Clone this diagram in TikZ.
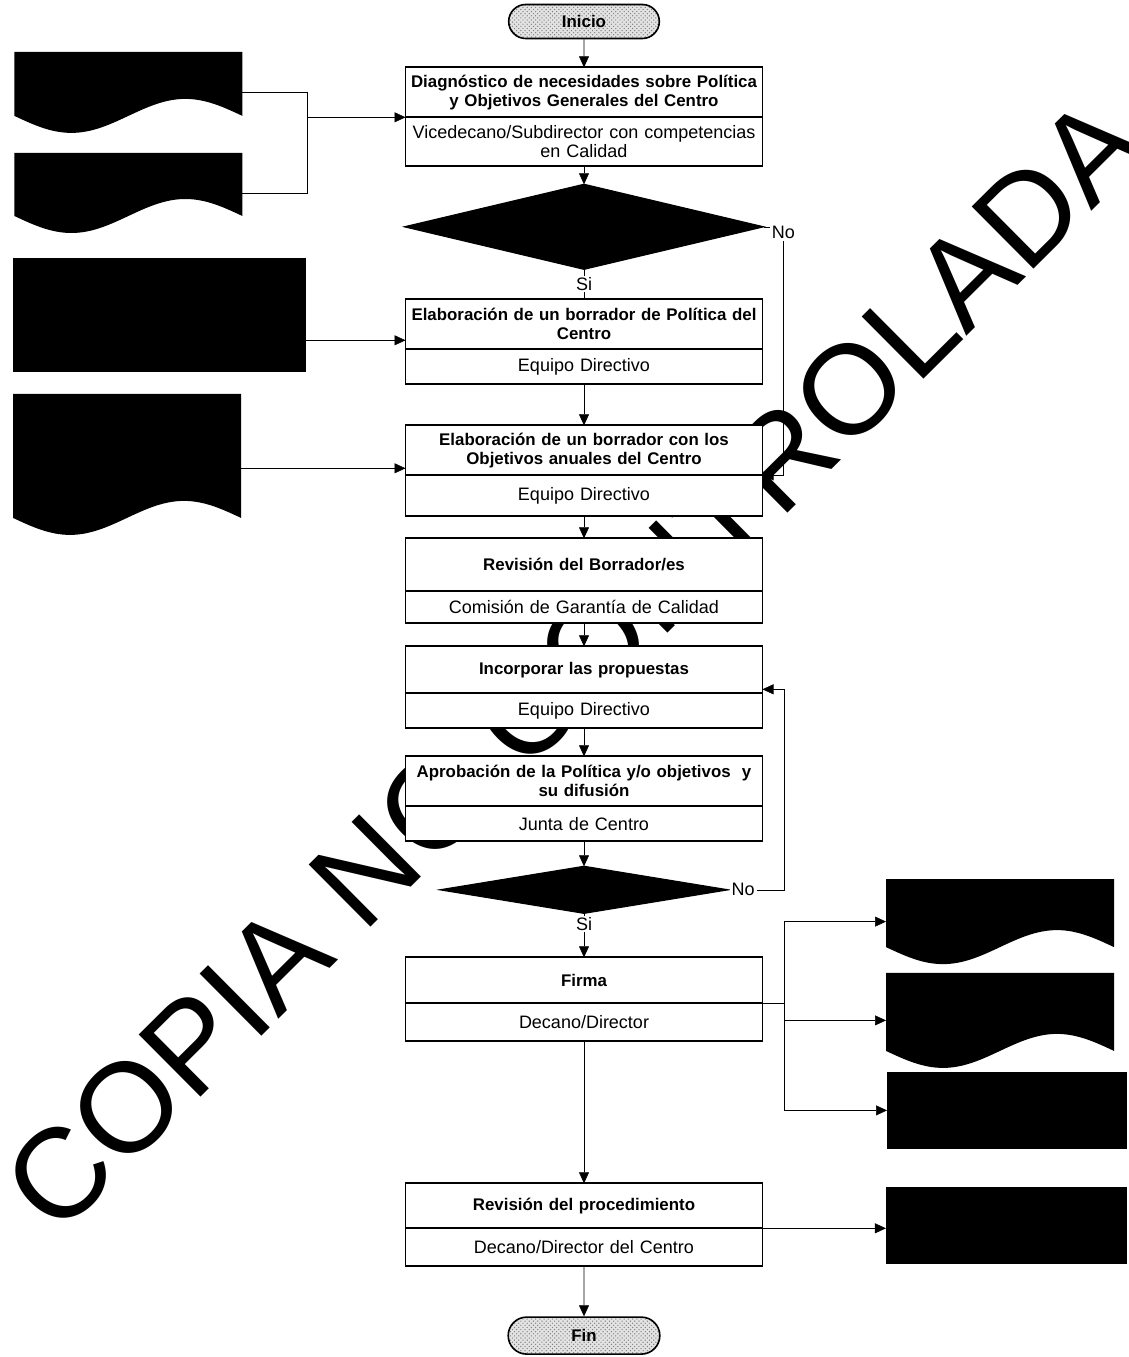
\documentclass[tikz,border=0pt]{standalone}
\usepackage{fontspec}
\setmainfont{Liberation Sans}
\usetikzlibrary{positioning,arrows.meta,shapes.geometric,shapes.misc,patterns}
\pgfdeclarelayer{lines}
\pgfdeclarelayer{stamplayer}
\pgfsetlayers{lines,stamplayer,main}
\newcommand{\taskfont}{\bfseries\fontsize{12}{13.5}\selectfont}
\newcommand{\respfont}{\fontsize{12.8}{13.5}\selectfont}
\tikzset{
flow/.style={
    >={Triangle[length=2.75mm,width=2.5mm]},
    line width=0.3mm
},
task/.style={
    draw,
    fill=white,
    line width=0.45mm,
    outer sep=0pt,
    minimum width=89.25mm,
    text width=88mm,
    inner xsep=0.6mm,
    inner ysep=0pt,
    align=center,
    font=\taskfont
},
resp/.style={
    task,
    font=\respfont
},
term/.style={
    rounded rectangle,
    draw,
    line width=0.4mm,
    minimum width=40mm,
    minimum height=8.5mm,
    preaction={fill=gray!22},
    pattern=crosshatch dots,
    pattern color=gray,
    font=\taskfont
},
decide/.style={
    diamond,
    draw,
    fill=black,
    inner sep=0pt,
    outer sep=0pt
},
sheet/.style={
    minimum width=57mm,
    inner sep=0pt,
    outer sep=0pt,
    fill=white,
    path picture={
        \fill[black] (path picture bounding box.north west)
            -- (path picture bounding box.north east)
            -- ([yshift=4.25mm]path picture bounding box.south east)
            sin ++(-14.25mm,4.25mm) cos ++(-14.25mm,-4.25mm)
            sin ++(-14.25mm,-4.25mm) cos ++(-14.25mm,4.25mm) -- cycle;
    }
},
blackbox/.style={
    fill=black,
    inner sep=0pt,
    outer sep=0pt
},
lbl/.style={
    font=\respfont,
    inner sep=1pt,
    fill=white
},
stamp/.style={
    rotate=44.8,
    inner sep=0pt,
    text=black,
    font=\fontsize{90.6}{90}\selectfont
},
leads/.style={
    ->
}}

\begin{document}
\begin{tikzpicture}[flow]
\useasboundingbox (0,0) rectangle (282mm,-339.25mm);

\node    (ini)  [term] at (146mm,-5.375mm)                       {Inicio};
\node    (t1)   [task, minimum height=12.5mm, below=7mm of ini]   {Diagnóstico de necesidades sobre Política\\y Objetivos Generales del Centro};
\node    (r1)   [resp, minimum height=12.25mm, below=0mm of t1]   {Vicedecano/Subdirector con competencias\\en Calidad};
\node    (q1)   [decide, minimum width=89.75mm, minimum height=21.25mm, below=4.5mm of r1] {};
\node    (t2)   [task, minimum height=12.5mm, below=7.5mm of q1]  {Elaboración de un borrador de Política del\\Centro};
\node    (r2)   [resp, minimum height=8.75mm, below=0mm of t2]    {Equipo Directivo};
\node    (t3)   [task, minimum height=12.5mm, below=10.25mm of r2] {Elaboración de un borrador con los\\Objetivos anuales del Centro};
\node    (r3)   [resp, minimum height=10.25mm, below=0mm of t3]   {Equipo Directivo};
\node    (t4)   [task, minimum height=13.25mm, below=5.5mm of r3] {Revisión del Borrador/es};
\node    (r4)   [resp, minimum height=8mm, below=0mm of t4]       {Comisión de Garantía de Calidad};
\node    (t5)   [task, minimum height=11.75mm, below=5.75mm of r4] {Incorporar las propuestas};
\node    (r5)   [resp, minimum height=8.75mm, below=0mm of t5]    {Equipo Directivo};
\node    (t6)   [task, minimum height=12.5mm, below=7mm of r5]    {Aprobación de la Política y/o objetivos~ y\\su difusión};
\node    (r6)   [resp, minimum height=8.75mm, below=0mm of t6]    {Junta de Centro};
\node    (q2)   [decide, minimum width=72mm, minimum height=11.75mm, below=6.25mm of r6] {};
\node    (t7)   [task, minimum height=11.5mm, below=11mm of q2]   {Firma};
\node    (r7)   [resp, minimum height=9.5mm, below=0mm of t7]     {Decano/Director};
\node    (t8)   [task, minimum height=11.25mm, below=35.5mm of r7] {Revisión del procedimiento};
\node    (r8)   [resp, minimum height=9.5mm, below=0mm of t8]     {Decano/Director del Centro};
\node    (fin)  [term, minimum width=40.25mm, minimum height=9.25mm, below=12.5mm of r8] {Fin};

\node    (no1)  [lbl, right=1.6mm of q1.east, yshift=-1.5mm]  {No};
\node    (no2)  [lbl, right=0.4mm of q2.east]  {No};

\node    (doc1) [sheet, minimum height=20.25mm] at (32.1mm,-23.1mm)   {};
\node    (doc2) [sheet, minimum height=20mm]    at (32.1mm,-48.25mm)  {};
\node    (rec1) [blackbox, minimum width=73.25mm, minimum height=28.5mm] at (39.9mm,-78.75mm) {};
\node    (doc3) [sheet, minimum height=35.25mm] at (31.75mm,-116.1mm) {};
\node    (doc4) [sheet, minimum height=21.25mm] at (250mm,-230.4mm)   {};
\node    (doc5) [sheet, minimum height=23.75mm] at (250mm,-255.1mm)   {};
\node    (rec2) [blackbox, minimum width=60mm, minimum height=19.25mm]   at (251.75mm,-277.6mm) {};
\node    (rec3) [blackbox, minimum width=60.25mm, minimum height=19.25mm] at (251.6mm,-306.4mm) {};

\coordinate (jn1) at ([xshift=-24.5mm]t1.south west);
\coordinate (in2) at ([yshift=2.25mm]t2.south west);
\coordinate (in3) at ([yshift=1.75mm]t3.south west);
\coordinate (in5) at ([yshift=1mm]t5.south east);
\coordinate (jn2) at ([xshift=5.5mm]t7.south east);

\begin{pgfonlayer}{stamplayer}
\node    (wm)   [stamp] at (143.5mm,-166mm) {COPIA NO CONTROLADA};
\end{pgfonlayer}

\begin{pgfonlayer}{lines}
\path    (ini)  edge[leads]    (t1);
\path    (r1)   edge[leads]    (q1);
\path    (q1)   edge node[lbl] {Si} (t2);
\path    (r2)   edge[leads]    (t3);
\path    (r3)   edge[leads]    (t4);
\path    (r4)   edge[leads]    (t5);
\path    (r5)   edge[leads]    (t6);
\path    (r6)   edge[leads]    (q2);
\path    (q2)   edge[leads] node[lbl, pos=0.25] {Si} (t7);
\path    (r7)   edge[leads]    (t8);
\path    (r8)   edge[leads]    (fin);

\draw    (doc1) -| (jn1) |- (doc2);
\path    (jn1)  edge[leads]    (t1.south west);
\path    (rec1.east |- in2) edge[leads] (in2);
\path    (doc3.east |- in3) edge[leads] (in3);
\draw    (q1.east) -- (q1.east -| no1.west);
\draw[->] (no1) |- (t3.south east);
\draw[->] (no2) -| ([xshift=5.5mm]in5) -- (in5);
\draw    (t7.south east) -- (jn2);
\draw[->] (jn2) |- (doc4);
\draw[->] (jn2) |- (doc5);
\draw[->] (jn2) |- (rec2);
\path    (t8.south east) edge[leads] (t8.south east -| rec3.west);
\end{pgfonlayer}
\end{tikzpicture}
\end{document}
